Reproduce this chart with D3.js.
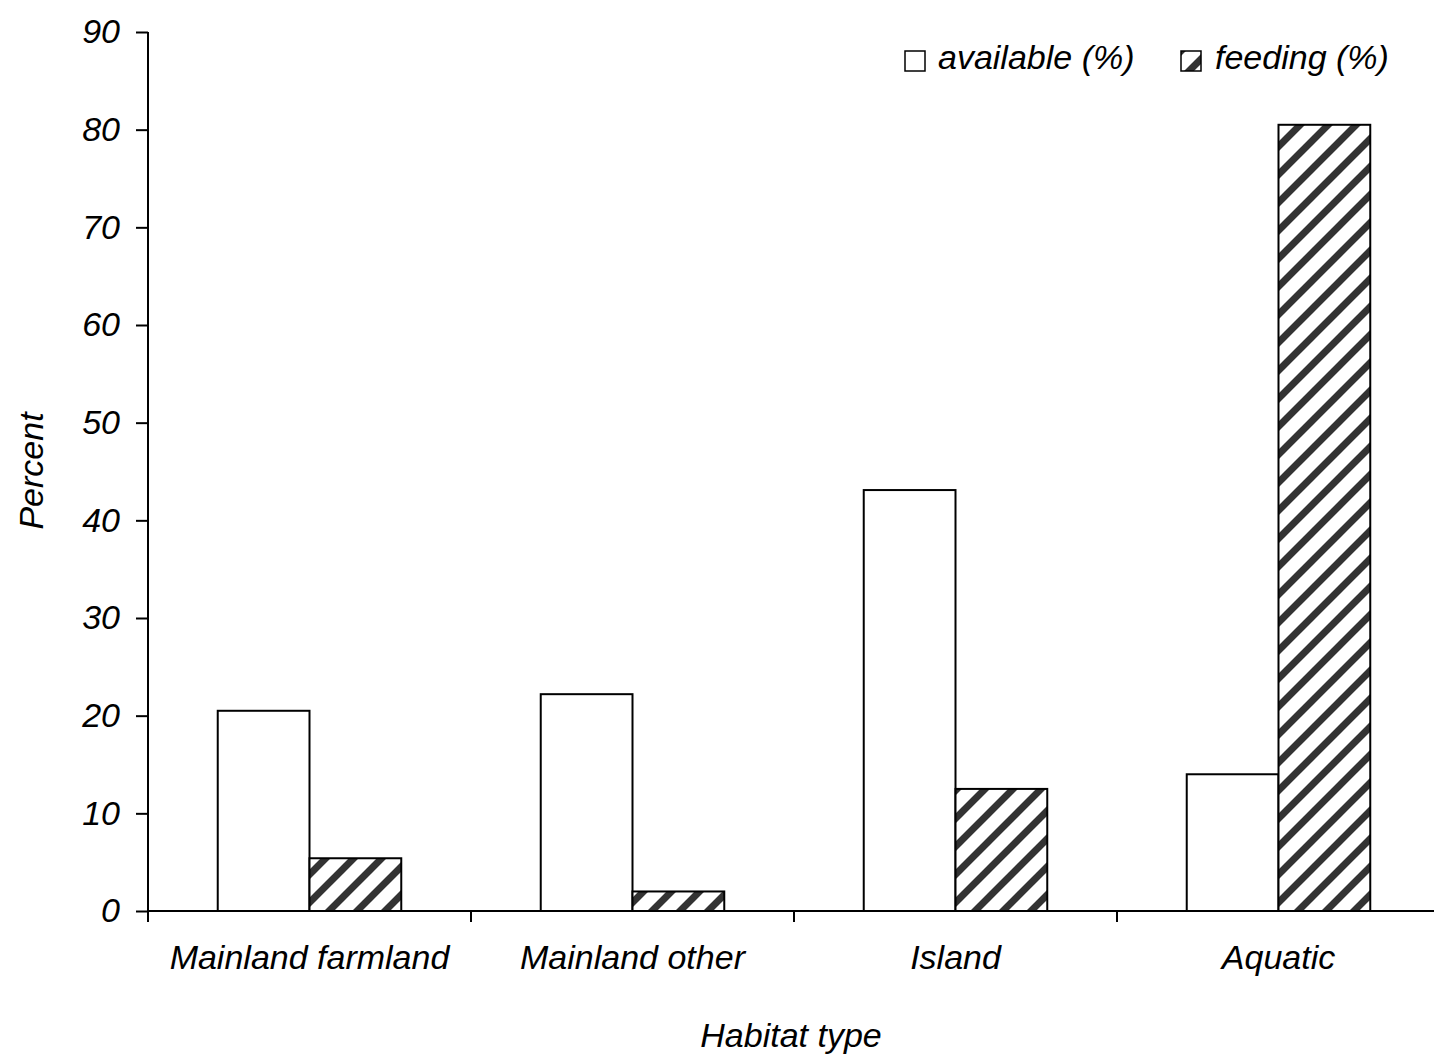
<!DOCTYPE html>
<html>
<head>
<meta charset="utf-8">
<script src="https://cdn.jsdelivr.net/npm/d3@7"></script>
<style>
  html, body { margin: 0; padding: 0; background: #fff; }
  svg { display: block; }
  text { font-family: "Liberation Sans", Arial, sans-serif; font-style: italic; fill: #000; }
</style>
</head>
<body>
<svg id="chart" width="1434" height="1058"></svg>
<script>
// Habitat types along the x axis
const categories = ["Mainland farmland", "Mainland other", "Island", "Aquatic"];
// Series names (legend labels)
const seriesNames = ["available (%)", "feeding (%)"];
// Percent of habitat available
const availableValues = [20.5, 22.2, 43.1, 14.0];
// Percent of feeding observations
const feedingValues = [5.4, 2.0, 12.5, 80.5];
// Y axis ticks
const yTicks = [0, 10, 20, 30, 40, 50, 60, 70, 80, 90];

const FONT_SIZE = "34px";
const svg = d3.select("#chart");

const plot = { left: 148, right: 1440, top: 32, bottom: 911 };

const x0 = d3.scaleBand().domain(categories).range([plot.left, plot.right]).paddingInner(0).paddingOuter(0);
const x1 = d3.scaleBand().domain(seriesNames).range([0, x0.bandwidth()]).paddingInner(0).paddingOuter(0.76);
const y = d3.scaleLinear().domain([0, 90]).range([plot.bottom, plot.top]);

// Diagonal hatch for the feeding series
const defs = svg.append("defs");
const pat = defs.append("pattern")
  .attr("id", "hatch")
  .attr("patternUnits", "userSpaceOnUse")
  .attr("width", 28).attr("height", 28)
  .attr("x", 0).attr("y", 0);
pat.append("rect").attr("width", 28).attr("height", 28).attr("fill", "#fff");
pat.append("path")
  .attr("d", "M-2,30 L30,-2 M-16,16 L16,-16 M12,44 L44,12")
  .attr("stroke", "#333")
  .attr("stroke-width", 7)
  .attr("fill", "none");

const rows = categories.map((c, i) => ({ cat: c, values: [availableValues[i], feedingValues[i]] }));

const fills = { "available (%)": "#fff", "feeding (%)": "url(#hatch)" };

// Bars
const groups = svg.append("g").selectAll("g")
  .data(rows).join("g")
  .attr("transform", d => `translate(${x0(d.cat)},0)`);

groups.selectAll("rect")
  .data(d => seriesNames.map((s, k) => ({ s, v: d.values[k] })))
  .join("rect")
  .attr("x", d => x1(d.s))
  .attr("y", d => y(d.v))
  .attr("width", x1.bandwidth())
  .attr("height", d => y(0) - y(d.v))
  .attr("fill", d => fills[d.s])
  .attr("stroke", "#000")
  .attr("stroke-width", 2);

// Y axis
const yAxis = svg.append("g")
  .attr("transform", `translate(${plot.left},0)`)
  .call(d3.axisLeft(y).tickValues(yTicks).tickSize(12).tickPadding(16).tickFormat(d3.format("d")));
yAxis.select(".domain").attr("stroke", "#000").attr("stroke-width", 2).attr("d", `M0,${plot.top}V${plot.bottom}`);
yAxis.selectAll(".tick line").attr("stroke", "#000").attr("stroke-width", 2);
yAxis.selectAll(".tick text")
  .style("font-family", "'Liberation Sans', Arial, sans-serif")
  .style("font-style", "italic")
  .style("font-size", FONT_SIZE)
  .attr("fill", "#000");

// X axis line, category separators and labels
const xAxis = svg.append("g");
xAxis.append("line")
  .attr("x1", plot.left).attr("x2", plot.right)
  .attr("y1", y(0)).attr("y2", y(0))
  .attr("stroke", "#000").attr("stroke-width", 2);
const bounds = categories.map(c => x0(c)).concat([x0(categories[categories.length - 1]) + x0.bandwidth()]);
xAxis.selectAll("line.sep")
  .data(bounds).join("line")
  .attr("class", "sep")
  .attr("x1", d => d).attr("x2", d => d)
  .attr("y1", y(0)).attr("y2", y(0) + 11)
  .attr("stroke", "#000").attr("stroke-width", 2);
xAxis.selectAll("text")
  .data(categories).join("text")
  .attr("x", d => x0(d) + x0.bandwidth() / 2)
  .attr("y", 969)
  .attr("text-anchor", "middle")
  .style("font-size", FONT_SIZE)
  .text(d => d);

// Axis titles
svg.append("text")
  .attr("x", 791).attr("y", 1047)
  .attr("text-anchor", "middle")
  .style("font-size", FONT_SIZE)
  .text("Habitat type");
svg.append("text")
  .attr("transform", "translate(43,471) rotate(-90)")
  .attr("text-anchor", "middle")
  .style("font-size", FONT_SIZE)
  .text("Percent");

// Legend
const legendPos = [{ sx: 905, tx: 938 }, { sx: 1181, tx: 1215 }];
const legend = svg.append("g");
seriesNames.forEach((s, k) => {
  legend.append("rect")
    .attr("x", legendPos[k].sx).attr("y", 51)
    .attr("width", 20).attr("height", 20)
    .attr("fill", fills[s])
    .attr("stroke", "#000").attr("stroke-width", 1.5);
  legend.append("text")
    .attr("x", legendPos[k].tx).attr("y", 69)
    .style("font-size", FONT_SIZE)
    .text(s);
});
</script>
</body>
</html>
